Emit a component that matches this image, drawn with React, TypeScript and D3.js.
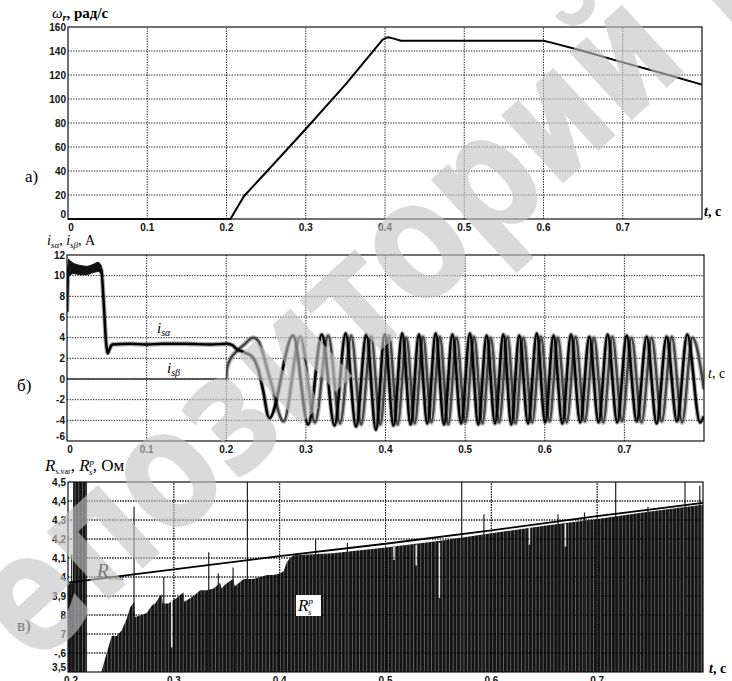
import * as d3 from "d3";

// ---------- data ----------
// а) rotor speed, rad/s
const speedTimes = [0, 0.205, 0.222, 0.25, 0.3, 0.35, 0.397, 0.404, 0.41, 0.42, 0.6, 0.61, 0.65, 0.7, 0.75, 0.8];
const speedValues = [0, 0, 19, 39, 75, 112, 149.5, 151.5, 150.5, 148.6, 148.6, 147, 140, 130.5, 121.5, 112];

// б) stator currents, A  ([t, i])
const iAlpha: [number, number][] = [
  [0, 6.5], [0.0017, 11.0], [0.008, 10.7], [0.016, 10.55], [0.025, 10.5], [0.033, 10.7],
  [0.039, 10.85], [0.043, 10.6], [0.046, 7.5], [0.049, 3.6], [0.051, 2.5], [0.054, 3.0],
  [0.057, 3.35], [0.08, 3.4], [0.1, 3.35], [0.12, 3.4], [0.15, 3.4], [0.18, 3.35], [0.2, 3.4],
  [0.207, 3.3], [0.213, 2.9], [0.222, 2.6], [0.232, 2.2], [0.24, 1.0], [0.246, -1.0], [0.254, -3.8],
  [0.284, 4.2], [0.303, -4.4], [0.32, 4.3], [0.336, -4.5], [0.35, 4.4], [0.363, -4.6],
  [0.376, 4.3], [0.388, -4.9], [0.399, 4.3], [0.41, -4.5], [0.421, 4.4], [0.4315, -4.4],
  [0.442, 4.3], [0.4525, -4.3], [0.463, 4.4], [0.4735, -4.4], [0.484, 4.3], [0.495, -4.3],
  [0.506, 4.4], [0.5165, -4.4], [0.527, 4.2], [0.5375, -4.3], [0.548, 4.3], [0.558, -4.4],
  [0.568, 4.2], [0.579, -4.3], [0.59, 4.4], [0.6005, -4.2], [0.611, 4.2], [0.622, -4.3],
  [0.633, 4.3], [0.6445, -4.2], [0.656, 4.1], [0.6675, -4.2], [0.679, 4.3], [0.691, -4.2],
  [0.703, 4.2], [0.7155, -4.1], [0.728, 4.1], [0.7405, -4.3], [0.753, 4.1], [0.766, -4.1],
  [0.779, 4.3], [0.795, -4.2], [0.8, -3.6],
];
const iBeta: [number, number][] = [
  [0, 0], [0.2, 0], [0.2008, 1.0], [0.205, 1.9], [0.212, 2.6], [0.222, 3.3], [0.234, 4.0],
  [0.24, 3.7], [0.255, 0], [0.272, -4.1], [0.293, 4.1], [0.3115, -4.2], [0.328, 4.2],
  [0.343, -4.3], [0.357, 4.2], [0.3695, -4.4], [0.382, 4.1], [0.3935, -4.4], [0.4045, 4.2],
  [0.4153, -4.4], [0.4263, 4.0], [0.4368, -4.3], [0.4473, 4.1], [0.4578, -4.2], [0.4683, 4.1],
  [0.4788, -4.4], [0.4893, 4.0], [0.5003, -4.2], [0.5113, 4.1], [0.5218, -4.3], [0.5323, 4.0],
  [0.5428, -4.2], [0.5533, 4.1], [0.5633, -4.3], [0.5733, 4.0], [0.5843, -4.2], [0.5953, 4.1],
  [0.606, -4.1], [0.6165, 4.0], [0.6277, -4.2], [0.6387, 4.1], [0.6503, -4.1], [0.6618, 4.0],
  [0.6735, -4.2], [0.685, 4.1], [0.697, -4.1], [0.709, 4.0], [0.7217, -4.2], [0.7343, 4.0],
  [0.747, -4.1], [0.7596, 4.1], [0.7725, -4.2], [0.7855, 4.0], [0.8, -1.0],
];
// noisy start-up band of i_sα: [t, low, high]
const iAlphaBand: [number, number, number][] = [
  [0.0017, 9.9, 11.6], [0.008, 10.2, 11.2], [0.016, 10.1, 11.0], [0.025, 10.1, 10.9],
  [0.033, 10.3, 11.1], [0.039, 10.4, 11.3], [0.043, 10.2, 11.0],
];

// в) stator resistance, Ohm
const rsVarTimes = [0.2, 0.3, 0.4, 0.5, 0.6, 0.7, 0.8];
const rsVarValues = [3.97, 4.04, 4.11, 4.175, 4.245, 4.32, 4.39];
// upper envelope of the R^p bars (null = no bars)
const rpEnvelope: [number, number | null][] = [
  [0.2, 3.97], [0.2047, 3.98], [0.2048, 4.5], [0.218, 4.5], [0.2181, null],
  [0.2315, 3.5], [0.2366, 3.6], [0.2413, 3.69], [0.246, 3.69], [0.2508, 3.72], [0.2555, 3.78],
  [0.2587, 3.84], [0.2624, 3.87], [0.2634, 3.79], [0.2697, 3.8], [0.2744, 3.81], [0.2792, 3.85],
  [0.2823, 3.86], [0.287, 3.9], [0.2886, 3.91], [0.2895, 3.86], [0.2949, 3.86], [0.2997, 3.88],
  [0.3028, 3.89], [0.3091, 3.92], [0.31, 3.87], [0.3186, 3.9], [0.3249, 3.93], [0.3312, 3.93],
  [0.3375, 3.94], [0.3438, 3.97], [0.345, 3.94], [0.3485, 3.96], [0.3533, 3.98], [0.3564, 3.99],
  [0.3575, 3.95], [0.3659, 3.99], [0.3753, 3.99], [0.3816, 4.0], [0.388, 4.01], [0.3942, 4.01],
  [0.4006, 4.02], [0.4037, 4.03], [0.4069, 4.08], [0.41, 4.1], [0.4132, 4.115], [0.45, 4.125],
  [0.5, 4.155], [0.55, 4.19], [0.6, 4.23], [0.65, 4.27], [0.7, 4.305], [0.75, 4.345], [0.8, 4.38],
];
// single tall samples [t, top]
const rpSpikes: [number, number][] = [
  [0.2035, 4.12], [0.2624, 4.37], [0.2905, 4.0], [0.333, 4.13], [0.342, 4.02], [0.356, 4.05],
  [0.3695, 4.5], [0.434, 4.2], [0.464, 4.18], [0.572, 4.5], [0.593, 4.33], [0.663, 4.33],
  [0.688, 4.34], [0.7175, 4.5], [0.748, 4.37], [0.783, 4.5], [0.797, 4.48],
];
// low samples showing as white notches [t, top, bottom]
const rpNotches: [number, number, number][] = [
  [0.298, 3.88, 3.63], [0.508, 4.16, 4.09], [0.529, 4.17, 4.06], [0.551, 4.18, 3.89],
  [0.636, 4.26, 4.17], [0.67, 4.28, 4.16],
];

// ticks
const timeTicks = [0, 0.1, 0.2, 0.3, 0.4, 0.5, 0.6, 0.7];
const speedTicks = [0, 20, 40, 60, 80, 100, 120, 140, 160];
const currentTicks = [-6, -4, -2, 0, 2, 4, 6, 8, 10, 12];
const rTimeTicks = [0.2, 0.3, 0.4, 0.5, 0.6, 0.7];
const rTicks = [3.5, 3.6, 3.7, 3.8, 3.9, 4.0, 4.1, 4.2, 4.3, 4.4, 4.5];
const rTickLabels = ["3,5", "-,6", "7", "8", "3,9", "4", "4,1", "4,2", "4,3", "4,4", "4,5"];

const watermark = "епозиторий Б";

const SERIF = "'Liberation Serif','Times New Roman',serif";
const SANS = "'Liberation Sans',Arial,sans-serif";

type Scale = d3.ScaleLinear<number, number>;

function Grid({ x, y, xs, ys }: { x: Scale; y: Scale; xs: number[]; ys: number[] }) {
  const [x0, x1] = x.range();
  const [y0, y1] = y.range();
  return (
    <g stroke="#000" strokeWidth={0.9} strokeDasharray="1.3 1.3" fill="none">
      {xs.filter((t) => x(t) > x0 + 1).map((t) => (
        <line key={"v" + t} x1={x(t)} x2={x(t)} y1={y0} y2={y1} />
      ))}
      {ys.filter((v) => y(v) > y1 + 1 && y(v) < y0 - 1).map((v) => (
        <line key={"h" + v} x1={x0} x2={x1} y1={y(v)} y2={y(v)} />
      ))}
    </g>
  );
}

function TickLabels({ x, y, xs, ys, xl, yl }: {
  x: Scale; y: Scale; xs: number[]; ys: number[]; xl: string[]; yl: string[];
}) {
  const [x0] = x.range();
  const [y0] = y.range();
  return (
    <g fontFamily={SANS} fontWeight="bold" fontSize={10} fill="#111">
      {ys.map((v, i) => (
        <text key={"y" + i} x={x0 - 2} y={y(v) + (i === 0 ? -1 : 3.5)} textAnchor="end">
          {yl[i]}
        </text>
      ))}
      {xs.map((t, i) => (
        <text key={"x" + i} x={x(t) + (i === 0 ? 3 : 0)} y={y0 + 12} textAnchor="middle">
          {xl[i]}
        </text>
      ))}
    </g>
  );
}

function Frame({ x, y }: { x: Scale; y: Scale }) {
  const [x0, x1] = x.range();
  const [y0, y1] = y.range();
  return <rect x={x0} y={y1} width={x1 - x0} height={y0 - y1} fill="none" stroke="#111" strokeWidth={1.2} />;
}

export default function App() {
  // panel а
  const xA = d3.scaleLinear().domain([0, 0.8]).range([68, 702]);
  const yA = d3.scaleLinear().domain([0, 160]).range([219, 27]);
  const speedLine = d3.line<number>().x((_, i) => xA(speedTimes[i])).y((d) => yA(d));

  // panel б
  const xB = d3.scaleLinear().domain([0, 0.8]).range([67, 704]);
  const yB = d3.scaleLinear().domain([-6, 12]).range([441, 255]);
  const curLine = d3.line<[number, number]>().x((d) => xB(d[0])).y((d) => yB(d[1])).curve(d3.curveMonotoneX);
  const bandArea = d3.area<[number, number, number]>()
    .x((d) => xB(d[0])).y0((d) => yB(d[1])).y1((d) => yB(d[2])).curve(d3.curveMonotoneX);

  // panel в
  const xC = d3.scaleLinear().domain([0.2, 0.8]).range([68, 703]);
  const yC = d3.scaleLinear().domain([3.5, 4.5]).range([672, 482]);
  const rpArea = d3.area<[number, number | null]>()
    .defined((d) => d[1] !== null)
    .x((d) => xC(d[0])).y0(yC(3.5)).y1((d) => yC(d[1] as number));
  const rsLine = d3.line<number>().x((_, i) => xC(rsVarTimes[i])).y((d) => yC(d));

  const tl = timeTicks.map((t) => (t === 0 ? "0" : t.toFixed(1)));
  const betaPath = curLine(iBeta) ?? "";

  return (
    <svg width={732} height={681} style={{ position: "absolute", left: 0, top: 0, background: "#fff" }}>
      <defs>
        <pattern id="rbars" width={3.6} height={10} patternUnits="userSpaceOnUse">
          <rect width={3.6} height={10} fill="#7a7a7a" />
          <rect width={2.9} height={10} fill="#141414" />
        </pattern>
        <clipPath id="clipB"><rect x={67} y={255} width={637} height={186} /></clipPath>
        <clipPath id="clipB2"><rect x={xB(0.2)} y={255} width={704 - xB(0.2)} height={186} /></clipPath>
        <clipPath id="clipC"><rect x={68} y={482} width={635} height={190} /></clipPath>
      </defs>

      {/* ---------- а) ---------- */}
      <Grid x={xA} y={yA} xs={timeTicks} ys={speedTicks} />
      <path d={speedLine(speedValues) ?? ""} fill="none" stroke="#000" strokeWidth={2} strokeLinejoin="round" />
      <Frame x={xA} y={yA} />
      <TickLabels x={xA} y={yA} xs={timeTicks} ys={speedTicks} xl={tl} yl={speedTicks.map(String)} />
      <text x={52} y={18} fontFamily={SERIF} fontSize={15} fontWeight="bold">
        <tspan fontStyle="italic" fontWeight="normal">ω</tspan>
        <tspan dy={3} fontSize={10} fontStyle="italic">r</tspan>
        <tspan dy={-3}>, рад/с</tspan>
      </text>
      <text x={704} y={216} fontFamily={SERIF} fontSize={14} fontWeight="bold">
        <tspan fontStyle="italic">t</tspan>, с
      </text>
      <text x={25} y={182} fontFamily={SERIF} fontSize={17}>а)</text>

      {/* ---------- б) ---------- */}
      <Grid x={xB} y={yB} xs={timeTicks} ys={currentTicks} />
      <g clipPath="url(#clipB)" fill="none" strokeLinejoin="round">
        <path d={betaPath} stroke="#333" strokeWidth={1.3} />
        <g clipPath="url(#clipB2)">
          <path d={betaPath} stroke="#555" strokeWidth={5} opacity={0.4} />
          <path d={betaPath} stroke="#444" strokeWidth={2.3} />
        </g>
        <path d={curLine(iAlpha) ?? ""} stroke="#000" strokeWidth={4.6} opacity={0.35} />
        <path d={curLine(iAlpha) ?? ""} stroke="#000" strokeWidth={2.5} />
        <path d={bandArea(iAlphaBand) ?? ""} fill="#111" stroke="#111" strokeWidth={1} />
      </g>
      <Frame x={xB} y={yB} />
      <TickLabels x={xB} y={yB} xs={timeTicks} ys={currentTicks} xl={tl} yl={currentTicks.map(String)} />
      <text x={47} y={245} fontFamily={SERIF} fontSize={14}>
        <tspan fontStyle="italic">i</tspan>
        <tspan dy={3} fontSize={9} fontStyle="italic">sα</tspan>
        <tspan dy={-3}>, </tspan>
        <tspan fontStyle="italic">i</tspan>
        <tspan dy={3} fontSize={9} fontStyle="italic">sβ</tspan>
        <tspan dy={-3}>, A</tspan>
      </text>
      <text x={157} y={333} fontFamily={SERIF} fontSize={15} fontStyle="italic">
        i<tspan dy={3} fontSize={10}>sα</tspan>
      </text>
      <text x={167} y={373} fontFamily={SERIF} fontSize={15} fontStyle="italic">
        i<tspan dy={3} fontSize={10}>sβ</tspan>
      </text>
      <text x={708} y={378} fontFamily={SERIF} fontSize={14}>
        <tspan fontStyle="italic">t</tspan>, с
      </text>
      <text x={17} y={391} fontFamily={SERIF} fontSize={17}>б)</text>

      {/* ---------- в) ---------- */}
      <Grid x={xC} y={yC} xs={rTimeTicks} ys={rTicks} />
      <g clipPath="url(#clipC)">
        <path d={rpArea(rpEnvelope) ?? ""} fill="url(#rbars)" />
        {rpSpikes.map(([t, v], i) => (
          <line key={"s" + i} x1={xC(t)} x2={xC(t)} y1={yC(3.5)} y2={yC(v)} stroke="#222" strokeWidth={1.2} />
        ))}
        {rpNotches.map(([t, a, b], i) => (
          <line key={"n" + i} x1={xC(t)} x2={xC(t)} y1={yC(a)} y2={yC(b)} stroke="#e8e8e8" strokeWidth={1.5} />
        ))}
        <Grid x={xC} y={yC} xs={rTimeTicks} ys={rTicks} />
        <path d={rsLine(rsVarValues) ?? ""} fill="none" stroke="#000" strokeWidth={1.8} />
      </g>
      <Frame x={xC} y={yC} />
      <TickLabels x={xC} y={yC} xs={rTimeTicks} ys={rTicks}
        xl={rTimeTicks.map((t) => t.toFixed(1))} yl={rTickLabels} />
      <text x={45} y={471} fontFamily={SERIF} fontSize={17}>
        <tspan fontStyle="italic">R</tspan>
        <tspan dy={3} fontSize={8}>s.var</tspan>
        <tspan dy={-3}>, </tspan>
        <tspan fontStyle="italic">R</tspan>
        <tspan dy={-6} fontSize={9} fontStyle="italic">p</tspan>
        <tspan dx={-5} dy={10} fontSize={9} fontStyle="italic">s</tspan>
        <tspan dy={-4}>, Ом</tspan>
      </text>
      <text x={97} y={577} fontFamily={SERIF} fontSize={19} fontStyle="italic">
        R<tspan dy={3} fontSize={8} fontStyle="normal">s.var</tspan>
      </text>
      <rect x={296} y={595} width={25} height={21} fill="#fff" />
      <text x={298} y={611} fontFamily={SERIF} fontSize={17} fontStyle="italic">
        R<tspan dy={-7} fontSize={9}>p</tspan>
        <tspan dx={-5} dy={11} fontSize={9}>s</tspan>
      </text>
      <text x={709} y={673} fontFamily={SERIF} fontSize={14} fontWeight="bold">
        <tspan fontStyle="italic">t</tspan>, с
      </text>
      <text x={17} y={631} fontFamily={SERIF} fontSize={17}>в)</text>

      {/* watermark of the source document */}
      <text transform="translate(34,668) rotate(-42.5)"
        fontFamily="'DejaVu Sans Condensed','DejaVu Sans',sans-serif"
        fontWeight="bold" fontSize={168} fill="#c4c4c4" opacity={0.62}
        textLength={1040} lengthAdjust="spacingAndGlyphs">
        {watermark}
      </text>
    </svg>
  );
}
